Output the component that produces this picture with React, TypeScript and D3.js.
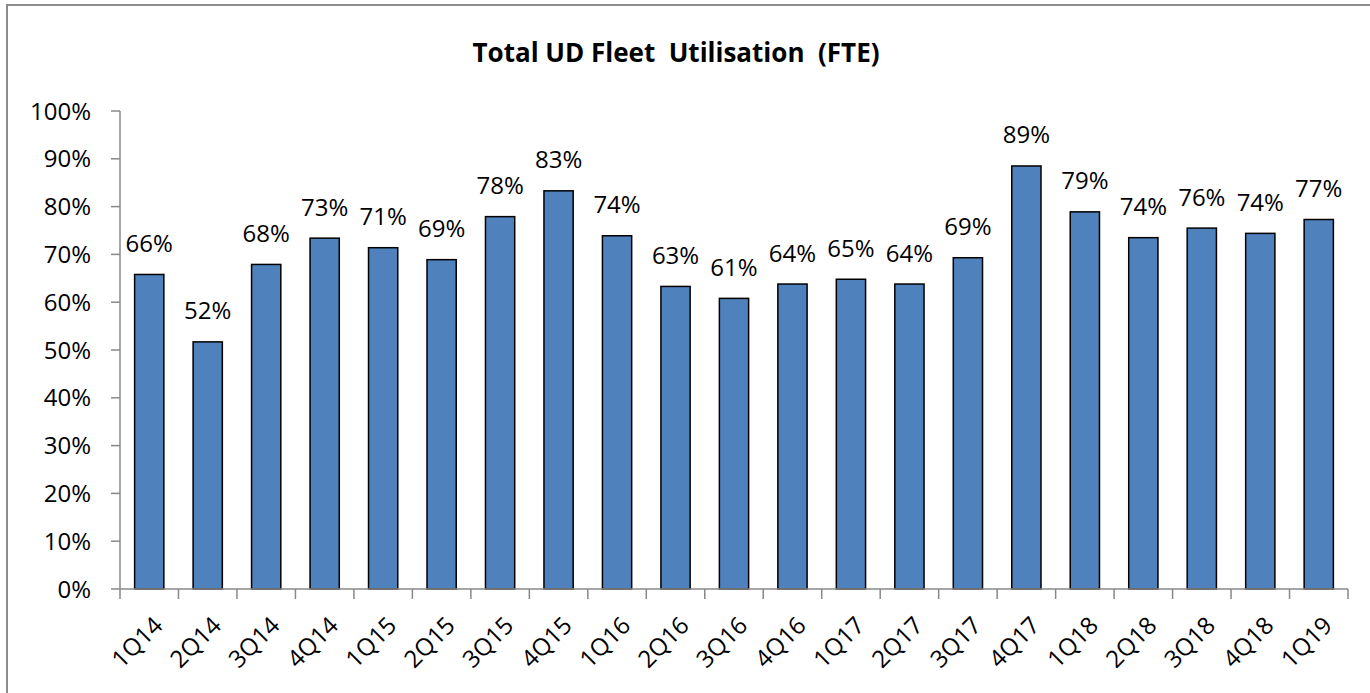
import React from "react";
import * as d3 from "d3";

const categories = ["1Q14","2Q14","3Q14","4Q14","1Q15","2Q15","3Q15","4Q15","1Q16","2Q16","3Q16","4Q16","1Q17","2Q17","3Q17","4Q17","1Q18","2Q18","3Q18","4Q18","1Q19"];
const values = [65.8,51.7,67.9,73.4,71.4,68.9,77.9,83.3,73.9,63.3,60.8,63.8,64.8,63.8,69.3,88.5,78.9,73.5,75.5,74.4,77.3];
const yTicks = [0,10,20,30,40,50,60,70,80,90,100];
const title = "Total UD Fleet  Utilisation  (FTE)";

const W = 1370, H = 693;
const plot = { left: 120, right: 1348, top: 111, bottom: 589 };
const FONT = "'Open Sans', 'Liberation Sans', Arial, sans-serif";

export default function App() {
  const x = d3.scaleBand<string>().domain(categories).range([plot.left, plot.right]).paddingInner(0.5).paddingOuter(0.25);
  const xb = d3.scaleBand<string>().domain(categories).range([plot.left, plot.right]);
  const y = d3.scaleLinear().domain([0, 100]).range([plot.bottom, plot.top]);
  const axisColor = "#888888";
  return (
    <svg width={W} height={H} style={{ position: "absolute", left: 0, top: 0, background: "#fff" }} fontFamily={FONT}>
      <rect x={0} y={0} width={W} height={H} fill="#fff" />
      <path d={`M7,${H + 5} V5 H${W + 5}`} fill="none" stroke="#8c8c8c" strokeWidth={2} />
      <text x={676} y={62} textAnchor="middle" fontWeight="bold" fontSize={26} fill="#000" style={{ whiteSpace: "pre" }}>{title}</text>
      {/* y axis */}
      <line x1={plot.left} x2={plot.left} y1={plot.top} y2={plot.bottom} stroke={axisColor} strokeWidth={1.5} />
      {yTicks.map(t => (
        <g key={t}>
          <line x1={plot.left - 9} x2={plot.left} y1={y(t)} y2={y(t)} stroke={axisColor} strokeWidth={1.5} />
          <text x={91} y={y(t) + 8.5} textAnchor="end" fontSize={24} fill="#000">{t}%</text>
        </g>
      ))}
      {/* bars */}
      {categories.map((c, i) => (
        <rect key={c} x={x(c)} y={y(values[i])} width={x.bandwidth()} height={plot.bottom - y(values[i])}
          fill="#4F81BD" stroke="#000" strokeWidth={1.5} />
      ))}
      {/* data labels */}
      {categories.map((c, i) => (
        <text key={c} x={(x(c) as number) + x.bandwidth() / 2} y={y(values[i]) - 22.5} textAnchor="middle" fontSize={24} fill="#000">
          {Math.round(values[i])}%
        </text>
      ))}
      {/* x axis */}
      <line x1={plot.left} x2={plot.right} y1={plot.bottom} y2={plot.bottom} stroke={axisColor} strokeWidth={1.5} />
      {[...categories.map(c => xb(c) as number), plot.right].map((px, i) => (
        <line key={i} x1={px} x2={px} y1={plot.bottom} y2={plot.bottom + 10} stroke={axisColor} strokeWidth={1.5} />
      ))}
      {categories.map(c => {
        const cx = (xb(c) as number) + xb.bandwidth() / 2 + 9;
        const cy = 621;
        return (
          <text key={c} x={cx} y={cy} textAnchor="end" fontSize={24} fill="#000" transform={`rotate(-45,${cx},${cy})`} dy="0.35em">
            {c}
          </text>
        );
      })}
    </svg>
  );
}
